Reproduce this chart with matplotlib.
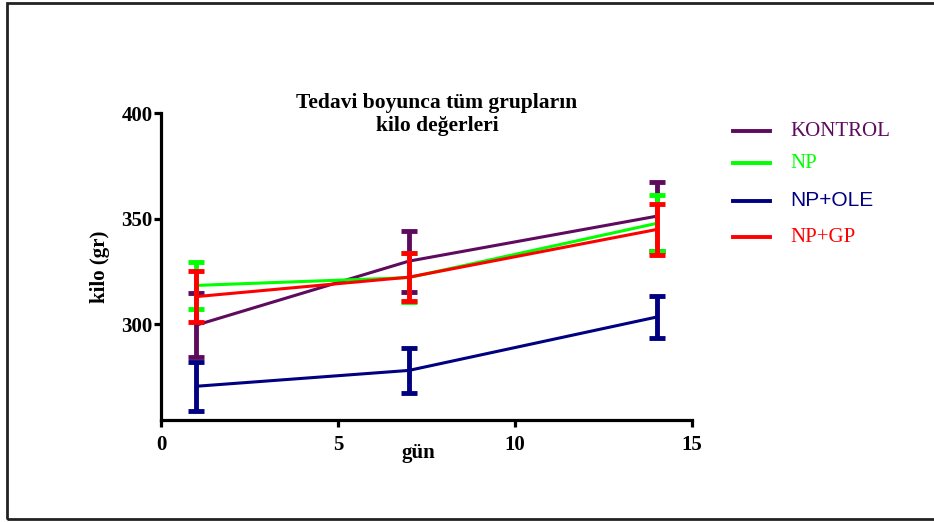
import matplotlib.pyplot as plt
from matplotlib.lines import Line2D
from matplotlib.patches import Rectangle

days = [1, 7, 14]
groups = ['KONTROL', 'NP', 'NP+OLE', 'NP+GP']
colors = ['#5e0b5e', '#00ff00', '#000080', '#ff0000']

# mean weights (g) and SEM per group
kontrol = [299.5, 329.8, 351.1]
kontrol_err = [15.3, 14.5, 16.3]
np_grp = [318.3, 322.0, 347.7]
np_err = [11.2, 11.5, 13.3]
np_ole = [270.5, 278.0, 303.3]
np_ole_err = [11.6, 10.8, 10.1]
np_gp = [313.0, 322.2, 344.8]
np_gp_err = [12.2, 11.3, 12.2]

means = [kontrol, np_grp, np_ole, np_gp]
errs = [kontrol_err, np_err, np_ole_err, np_gp_err]

serif = 'Liberation Serif'

fig = plt.figure(figsize=(9.34, 5.22), dpi=100)
ax = fig.add_axes([0.1724, 0.1954, 0.5685, 0.588])

for m, e, c in zip(means, errs, colors):
    ax.plot(days, m, color=c, lw=2.2, solid_capstyle='butt')
    ax.errorbar(days, m, yerr=e, fmt='none', ecolor=c, elinewidth=3.5,
                capsize=6, capthick=3.5)

ax.set_xlim(0, 15)
ax.set_ylim(254.5, 400)
ax.set_xticks([0, 5, 10, 15])
ax.set_yticks([300, 350, 400])
for s in ['top', 'right']:
    ax.spines[s].set_visible(False)
for s in ['left', 'bottom']:
    ax.spines[s].set_linewidth(2.3)
ax.tick_params(width=2.3, length=5, direction='out')
for lab in ax.get_xticklabels() + ax.get_yticklabels():
    lab.set_fontfamily(serif)
    lab.set_fontweight('bold')
    lab.set_fontsize(15)
ax.tick_params(axis='x', pad=6)
ax.tick_params(axis='y', pad=1)

ax.set_ylabel('kilo (gr)', fontfamily=serif, fontweight='bold', fontsize=15, labelpad=8)
fig.text(0.4475, 1 - 453 / 522, 'gün', fontfamily=serif, fontweight='bold',
         fontsize=15, ha='center', va='center')
fig.text(0.468, 1 - 114 / 522, 'Tedavi boyunca tüm grupların\nkilo değerleri',
         fontfamily=serif, fontweight='bold', fontsize=15.5, ha='center',
         va='center', linespacing=1.2)

# legend drawn by hand on the right
leg_y = [131, 163, 201, 237]
leg_fonts = [serif, serif, 'Liberation Sans', serif]
for name, c, y, f in zip(groups, colors, leg_y, leg_fonts):
    yy = 1 - y / 522
    fig.add_artist(Line2D([733 / 934, 770 / 934], [yy, yy], color=c, lw=2.8))
    fig.text(790 / 934, yy, name, color=c, fontfamily=f, fontsize=15,
             va='center', ha='left')

# frame around the figure (left, top and bottom edges)
fig.add_artist(Rectangle((7 / 934, 3 / 522), 1.05, 1 - 6 / 522,
                         transform=fig.transFigure, fill=False,
                         edgecolor='#222222', lw=2, clip_on=False))

fig.savefig('out.png', dpi=100)
